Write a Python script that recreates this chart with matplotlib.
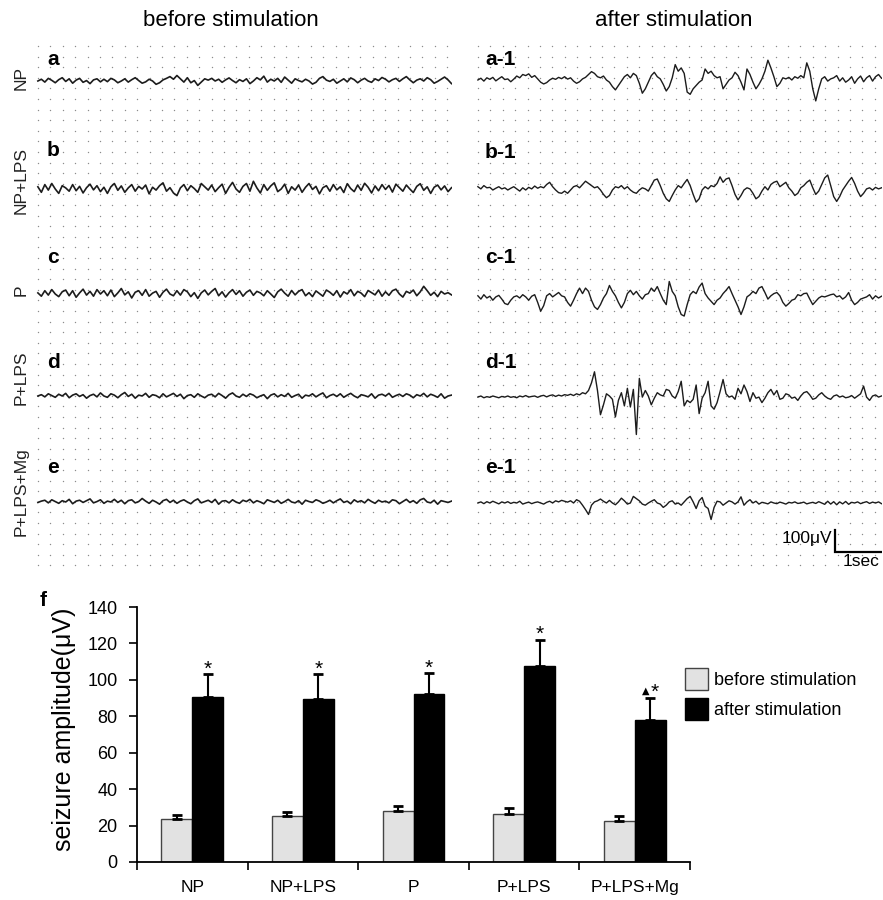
import numpy as np
import matplotlib
matplotlib.use("Agg")
import matplotlib.pyplot as plt
from matplotlib.patches import Patch

plt.rcParams['font.family'] = ['Liberation Sans', 'DejaVu Sans']

# ---------------- data ----------------
groups = ["NP", "NP+LPS", "P", "P+LPS", "P+LPS+Mg"]
before_mean = [23.5, 25.0, 28.0, 26.5, 22.5]
before_err = [2.5, 2.5, 3.0, 3.0, 3.0]
after_mean = [90.5, 89.5, 92.0, 107.5, 78.0]
after_err = [12.5, 13.5, 11.5, 14.5, 12.0]
marks = ["*", "*", "*", "*", "\u25b2*"]

panel_left = ["a", "b", "c", "d", "e"]
panel_right = ["a-1", "b-1", "c-1", "d-1", "e-1"]

# EEG traces (µV), before stimulation, sampled evenly across the trace
eeg_before_a = [0,8,-5,12,3,-8,6,15,-2,10,-10,4,12,-6,2,-12,5,10,-4,8,
 -3,12,5,-8,0,10,-5,6,15,2,-10,-4,8,0,-15,-8,5,12,20,8,
 25,10,-5,15,-8,2,-20,-5,10,4,12,0,8,-6,5,14,2,-8,6,-2,
 10,-12,0,15,5,22,-5,8,0,12,-6,18,4,-10,10,2,-4,8,0,-14,
 -6,12,20,4,-2,8,-10,0,10,-4,14,6,-8,4,12,0,-6,10,2,16,
 8,-4,6,12,-2,10,20,5,-8,4,10,0,15,6,-10,-2,8,18,5,-12]
eeg_before_b = [10,-15,20,-5,25,0,-20,15,5,-10,20,-8,12,-18,6,22,-4,15,-12,8,
 -20,10,25,-6,14,-15,5,20,-10,12,0,18,-22,8,-5,15,28,-10,6,-18,
 -30,5,20,-8,15,2,-15,25,10,-5,18,-12,6,22,-20,8,30,0,-15,12,
 25,-10,35,5,-18,20,-6,14,28,-12,0,22,-20,10,-5,18,-15,8,25,-2,
 12,-22,6,15,-10,20,-4,10,-16,24,2,-12,18,-6,26,8,-18,14,-8,20,
 -2,16,-14,22,6,-10,18,0,-16,12,24,-6,10,-20,8,18,-4,14,-12,6]
eeg_before_c = [5,-10,15,-5,20,0,-12,10,18,-8,15,-15,5,22,-5,12,-10,20,0,15,
 -8,18,-12,5,25,-4,10,-18,8,15,-6,20,-10,4,12,-15,8,22,0,-8,
 15,-5,20,10,-12,6,-20,5,18,-4,12,25,-8,10,-14,6,20,-2,15,-10,
 8,18,-6,12,5,-8,15,0,-16,10,22,4,-10,16,-4,12,20,-8,6,-12,
 14,2,-10,18,8,-6,15,-14,10,0,20,-8,12,4,-12,16,6,-4,18,-10,
 10,-6,15,22,0,-14,12,4,18,-8,10,35,15,-6,8,-12,12,0,6,-4]
eeg_before_d = [0,6,-4,10,2,-6,8,0,12,-8,4,10,-2,6,-10,2,8,-4,14,0,
 -6,10,4,-8,6,16,-2,8,-10,4,0,12,-6,6,2,-8,10,-4,4,12,
 -2,8,-12,2,6,-6,10,0,-8,4,8,-4,12,2,-10,6,14,0,-6,8,
 -2,10,4,-8,0,6,-12,4,10,-4,6,-2,12,-6,2,8,-10,4,0,10,
 -4,6,14,-8,2,8,-2,10,-6,4,12,0,-8,6,2,-4,10,-10,4,8,
 0,12,-6,2,8,-2,10,4,-8,6,0,12,-4,8,2,-6,10,-10,0,4]
eeg_before_e = [-2,4,8,-4,10,2,-6,6,0,12,-8,4,8,-2,6,14,-4,2,10,-6,
 4,0,12,-2,8,-8,6,10,-4,2,16,4,-6,8,0,-10,6,12,-2,8,
 -6,4,10,0,-8,6,14,-4,2,8,-2,12,-10,4,6,-4,10,0,-6,8,
 2,12,-4,6,0,-8,10,4,-2,8,-6,2,12,0,-4,6,-10,8,2,-2,
 10,4,-6,0,8,-4,6,14,-2,4,-8,10,0,6,-4,12,2,-6,8,0,
 4,-4,10,6,-8,2,12,-2,6,-6,10,16,0,-4,8,-10,6,2,-2,4]

# EEG traces (µV), after stimulation
eeg_after_a = [0,8,-5,10,3,12,-4,6,15,2,
 5,-8,4,18,10,25,20,28,12,20,
 5,-10,-18,-12,0,8,3,12,6,15,
 4,10,-5,-15,-8,5,12,25,38,30,
 15,10,18,0,-10,-30,-45,-25,-5,15,
 25,10,30,20,-15,-60,-40,-10,20,35,
 15,5,-20,-50,-30,10,70,40,55,30,
 -55,-65,-40,-25,-10,0,50,30,40,20,
 10,15,-40,-20,0,10,35,20,-10,-45,
 50,25,-10,-40,-20,5,40,90,55,15,
 -30,-15,10,5,12,0,15,8,20,10,
 78,40,-40,-95,-40,5,15,-5,5,10,
 20,-5,10,-10,0,15,-15,5,18,-8,
 10,20,-5,15,25,8]
eeg_after_b = [15,5,20,10,12,0,8,15,5,10,
 0,8,15,5,-5,10,0,12,5,18,
 8,15,10,25,35,15,0,-12,-15,-5,
 -15,0,15,20,10,25,40,30,20,10,
 15,0,-20,-35,-25,0,15,10,20,5,
 15,0,-10,-15,0,10,5,-5,20,45,
 50,20,-15,-40,-52,-25,0,20,10,30,
 48,20,-20,-55,-40,0,15,5,20,15,
 30,60,35,50,55,20,-20,-45,-25,0,
 10,5,-15,-40,-30,-5,15,0,25,35,
 40,15,25,35,10,-5,-25,-15,10,20,
 35,45,10,-20,-5,25,55,68,20,-30,
 -52,-30,0,20,40,57,30,-5,-30,-15,
 5,10,0,12,5,10]
eeg_after_c = [10,-5,15,0,8,-10,5,12,-5,-25,
 -30,-10,5,10,0,15,5,-10,8,15,
 -20,-60,-35,10,20,5,15,25,10,5,
 -20,-37,-10,20,45,20,45,30,-10,-40,
 -52,-30,0,20,57,30,10,-20,-45,-20,
 20,35,15,30,10,-5,15,20,45,30,
 52,20,-10,-30,75,30,10,-40,-75,-82,
 -30,15,30,20,50,68,20,0,-15,-30,
 -10,0,20,35,52,20,-10,-40,-75,-40,
 5,15,30,20,45,52,25,-5,10,20,
 25,10,-20,-37,-25,-10,-5,15,10,20,
 22,-5,-30,-15,0,8,5,10,15,18,
 5,10,-5,5,25,-10,-30,-20,-5,0,
 5,15,-5,10,0,8]
eeg_after_d = [-5,0,-8,-3,-6,0,-4,-8,-2,-5,
 0,-6,-3,-8,0,-4,2,-5,-2,0,
 -6,0,3,-4,2,5,-2,4,0,6,
 3,8,2,10,5,15,10,25,60,110,
 25,-85,-40,10,0,-15,-95,-20,15,-45,
 35,-50,30,-175,80,-5,25,0,-40,-10,
 15,5,0,30,25,0,-10,20,67,-45,
 -20,-30,-15,50,-80,-10,15,67,-45,-60,
 -30,20,75,10,-5,0,-15,35,10,50,
 20,-25,15,-10,-5,-30,-10,15,30,5,
 25,-15,-10,10,5,-10,-5,-20,0,15,
 20,5,-15,-10,5,15,0,-10,-15,0,
 5,-5,0,-8,-5,2,-10,0,10,45,
 -5,-20,0,5,-5,0]
eeg_after_e = [0,5,-3,6,0,8,2,-4,5,0,
 6,-2,3,0,8,-5,0,4,-3,2,
 5,0,-5,3,8,0,10,5,12,8,
 4,10,0,15,8,-10,-30,-52,-10,5,
 10,18,8,0,12,0,-8,5,22,10,
 -5,0,30,20,10,-5,-10,0,8,15,
 0,-5,-20,-10,5,10,-5,0,-10,5,
 20,30,5,-25,10,25,-15,-25,-75,-20,
 8,5,-10,0,10,5,-5,5,28,-10,
 5,15,0,8,-5,3,0,-4,5,0,
 -3,4,0,-5,3,0,5,-2,0,4,
 -4,0,3,-2,6,0,-6,8,-5,6,
 -8,5,-4,7,-6,3,0,5,-3,2,
 6,-2,4,0,5,-3]

traces_before = [eeg_before_a, eeg_before_b, eeg_before_c, eeg_before_d, eeg_before_e]
traces_after = [eeg_after_a, eeg_after_b, eeg_after_c, eeg_after_d, eeg_after_e]

# ---------------- layout helpers (pixel based) ----------------
W, H = 883, 900
fig = plt.figure(figsize=(W / 100, H / 100), dpi=100)
def fx(x): return x / W
def fy(y): return 1 - y / H

PX_PER_SEC = 47.0
PX_PER_UV = 22.0 / 100.0
TOP, BOT = 40, 570

def trace_axes(x0, x1, centers, traces, labels, label_x, label_base, lw):
    ax = fig.add_axes([fx(x0), fy(BOT), (x1 - x0) / W, (BOT - TOP) / H])
    T = (x1 - x0) / PX_PER_SEC
    ymax = (BOT - TOP) / PX_PER_UV
    ax.set_xlim(0, T)
    ax.set_ylim(0, ymax)
    ax.axis('off')
    # dotted background grid
    gx = np.arange(2, x1 - x0, 12.4) / PX_PER_SEC
    gy = (BOT - np.arange(46, BOT - 2, 10.6)) / PX_PER_UV
    GX, GY = np.meshgrid(gx, gy)
    ax.scatter(GX.ravel(), GY.ravel(), s=1.0, color='#8c8c8c', linewidths=0, zorder=1)
    for cy, tr in zip(centers, traces):
        off = (BOT - cy) / PX_PER_UV
        t = np.linspace(0.04, T - 0.01, len(tr))
        ax.plot(t, off + np.asarray(tr, float), color='#1c1c1c', lw=lw, zorder=3)
    for lab, base in zip(labels, label_base):
        fig.text(fx(label_x), fy(base), lab, fontsize=15, fontweight='bold',
                 ha='left', va='baseline')
    return ax, T

axL, TL = trace_axes(36, 452, [81, 189, 294, 396, 502], traces_before,
                     panel_left, 47, [65, 156, 263, 368, 473], 1.2)
axR, TR = trace_axes(476, 882, [80, 190, 298, 396, 503], traces_after,
                     panel_right, 485, [65, 158, 263, 368, 473], 1.0)

# scale bar on the right panel (1 s, 100 µV)
sx = (835 - 476) / PX_PER_SEC
sy = (BOT - 552) / PX_PER_UV
axR.plot([sx, sx, sx + 1.0], [sy + 100, sy, sy], color='black', lw=1.6,
         solid_joinstyle='miter', zorder=4)
fig.text(fx(832), fy(538), "100\u03bcV", fontsize=12.5, ha='right', va='center')
fig.text(fx(861), fy(562), "1sec", fontsize=12.5, ha='center', va='center')

# column titles
fig.text(fx(231), fy(21), "before stimulation", fontsize=16, ha='center', va='center')
fig.text(fx(674), fy(21), "after stimulation", fontsize=16, ha='center', va='center')

# row labels
for lab, cy in zip(groups, [78, 181, 290, 378, 492]):
    fig.text(fx(21), fy(cy), lab, fontsize=12.5, rotation=90, ha='center', va='center',
             color='#222222')

# ---------------- bar chart ----------------
axB = fig.add_axes([fx(137), fy(862), (690 - 137) / W, (862 - 607) / H])
n = len(groups)
centers = np.arange(n) + 0.5
bw = 0.28
xb = centers - bw / 2
xa = centers + bw / 2
axB.bar(xb, before_mean, width=bw, color='#e2e2e2', edgecolor='#444444', linewidth=1.0,
        zorder=2)
axB.bar(xa, after_mean, width=bw, color='black', edgecolor='black', linewidth=1.0,
        zorder=2)
axB.errorbar(xb, before_mean, yerr=[np.zeros(n), before_err], fmt='none',
             ecolor='black', elinewidth=1.5, capsize=3.5, capthick=2, zorder=3)
axB.errorbar(xa, after_mean, yerr=[np.zeros(n), after_err], fmt='none',
             ecolor='black', elinewidth=1.5, capsize=3.5, capthick=2, zorder=3)
for x, m, e, mk in zip(xa, after_mean, after_err, marks):
    top = m + e
    if mk == "*":
        axB.annotate("*", (x, top), xytext=(0, -3), textcoords='offset points',
                     ha='center', va='bottom', fontsize=15)
    else:
        axB.annotate("\u25b2", (x, top), xytext=(-3.5, 2), textcoords='offset points',
                     ha='center', va='bottom', fontsize=7, family=['DejaVu Sans'])
        axB.annotate("*", (x, top), xytext=(3, -3), textcoords='offset points',
                     ha='center', va='bottom', fontsize=15)

axB.set_xlim(0, n)
axB.set_ylim(0, 140)
axB.set_yticks(np.arange(0, 141, 20))
axB.set_xticks(centers)
axB.set_xticklabels(groups, fontsize=12.5)
axB.set_xticks(np.arange(0, n + 1), minor=True)
axB.tick_params(axis='x', which='major', length=0, pad=13)
axB.tick_params(axis='x', which='minor', length=6, width=1.2, direction='out')
axB.tick_params(axis='y', length=6, width=1.2, direction='out', labelsize=13, pad=8)
for s in ['top', 'right']:
    axB.spines[s].set_visible(False)
for s in ['left', 'bottom']:
    axB.spines[s].set_linewidth(1.3)

fig.text(fx(64), fy(729), "seizure amplitude(\u03bcV)", fontsize=18, rotation=90,
         ha='center', va='center')
fig.text(fx(40), fy(600), "f", fontsize=15, fontweight='bold', ha='left', va='center')

handles = [Patch(facecolor='#e2e2e2', edgecolor='#444444', linewidth=1.0),
           Patch(facecolor='black', edgecolor='black')]
fig.legend(handles, ["before stimulation", "after stimulation"], loc='upper left',
           bbox_to_anchor=(fx(685), fy(668)), frameon=False, fontsize=13,
           handlelength=1.3, handleheight=1.5, handletextpad=0.3, labelspacing=0.45,
           borderpad=0, borderaxespad=0)

fig.savefig("out.png", dpi=100)
